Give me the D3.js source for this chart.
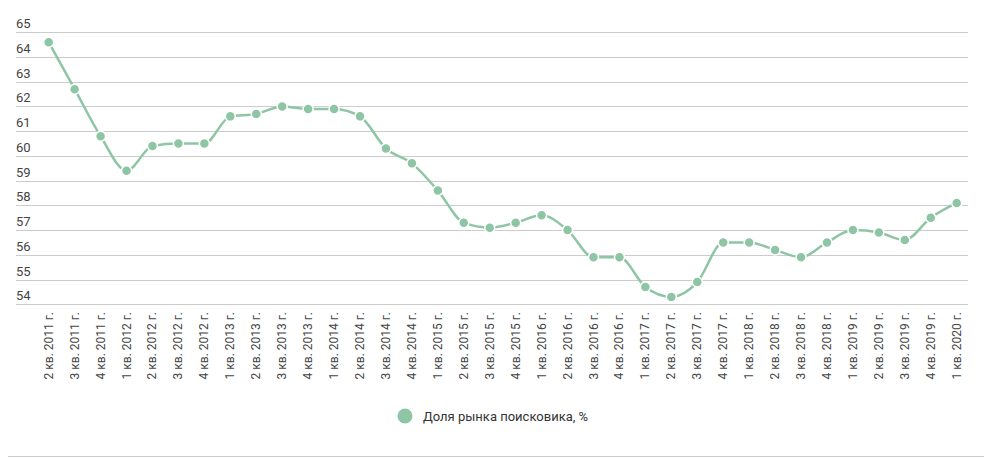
<!DOCTYPE html>
<html>
<head>
<meta charset="utf-8">
<script src="https://cdn.jsdelivr.net/npm/d3@7"></script>
<style>
  body { margin: 0; background: #fff; }
  text { font-family: Roboto, "Noto Sans", sans-serif; }
</style>
</head>
<body>
<div id="chart"></div>
<script>
// data
const quarters = [
  "2 кв. 2011 г.", "3 кв. 2011 г.", "4 кв. 2011 г.",
  "1 кв. 2012 г.", "2 кв. 2012 г.", "3 кв. 2012 г.", "4 кв. 2012 г.",
  "1 кв. 2013 г.", "2 кв. 2013 г.", "3 кв. 2013 г.", "4 кв. 2013 г.",
  "1 кв. 2014 г.", "2 кв. 2014 г.", "3 кв. 2014 г.", "4 кв. 2014 г.",
  "1 кв. 2015 г.", "2 кв. 2015 г.", "3 кв. 2015 г.", "4 кв. 2015 г.",
  "1 кв. 2016 г.", "2 кв. 2016 г.", "3 кв. 2016 г.", "4 кв. 2016 г.",
  "1 кв. 2017 г.", "2 кв. 2017 г.", "3 кв. 2017 г.", "4 кв. 2017 г.",
  "1 кв. 2018 г.", "2 кв. 2018 г.", "3 кв. 2018 г.", "4 кв. 2018 г.",
  "1 кв. 2019 г.", "2 кв. 2019 г.", "3 кв. 2019 г.", "4 кв. 2019 г.",
  "1 кв. 2020 г."
];
const share = [
  64.6, 62.7, 60.8,
  59.4, 60.4, 60.5, 60.5,
  61.6, 61.7, 62.0, 61.9,
  61.9, 61.6, 60.3, 59.7,
  58.6, 57.3, 57.1, 57.3,
  57.6, 57.0, 55.9, 55.9,
  54.7, 54.3, 54.9, 56.5,
  56.5, 56.2, 55.9, 56.5,
  57.0, 56.9, 56.6, 57.5,
  58.1
];
const yTicks = [54, 55, 56, 57, 58, 59, 60, 61, 62, 63, 64, 65];
const seriesName = "Доля рынка поисковика, %";

const W = 984, H = 458;
const green = "#8ec5a5";

const svg = d3.select("#chart")
  .append("svg")
    .attr("width", W)
    .attr("height", H);

// scales
const x = d3.scalePoint()
  .domain(quarters)
  .range([48.7, 956.7]);

const y = d3.scaleLinear()
  .domain([54, 65])
  .range([304.3, 32.3]);

// grid + y labels (labels sit above their line)
const grid = svg.append("g");
grid.selectAll("line")
  .data(yTicks)
  .join("line")
    .attr("x1", 16)
    .attr("x2", 968)
    .attr("y1", d => Math.round(y(d)) + 0.5)
    .attr("y2", d => Math.round(y(d)) + 0.5)
    .attr("stroke", "#cccccc")
    .attr("stroke-width", 1);
grid.selectAll("text")
  .data(yTicks)
  .join("text")
    .attr("x", 16)
    .attr("y", d => y(d) - 4)
    .attr("fill", "#444")
    .style("font-size", "13px")
    .text(d => d);

// x labels, rotated
svg.append("g")
  .selectAll("text")
  .data(quarters)
  .join("text")
    .attr("transform", d => `translate(${x(d) + 4},312)rotate(-90)`)
    .attr("text-anchor", "end")
    .attr("fill", "#444")
    .style("font-size", "12px")
    .text(d => d);

// line
const pts = quarters.map((q, i) => [x(q), y(share[i])]);
svg.append("path")
  .datum(pts)
  .attr("fill", "none")
  .attr("stroke", green)
  .attr("stroke-width", 2.5)
  .attr("d", d3.line().curve(d3.curveMonotoneX));

svg.append("g")
  .selectAll("circle")
  .data(pts)
  .join("circle")
    .attr("cx", d => d[0])
    .attr("cy", d => d[1])
    .attr("r", 5)
    .attr("fill", green)
    .attr("stroke", "#fff")
    .attr("stroke-width", 1.5);

// legend
svg.append("circle")
  .attr("cx", 405)
  .attr("cy", 416)
  .attr("r", 7.5)
  .attr("fill", green);
svg.append("text")
  .attr("x", 423)
  .attr("y", 421)
  .attr("fill", "#333")
  .style("font-size", "13px")
  .text(seriesName);

// bottom rule
svg.append("line")
  .attr("x1", 8)
  .attr("x2", W)
  .attr("y1", 456.5)
  .attr("y2", 456.5)
  .attr("stroke", "#cccccc");
</script>
</body>
</html>
